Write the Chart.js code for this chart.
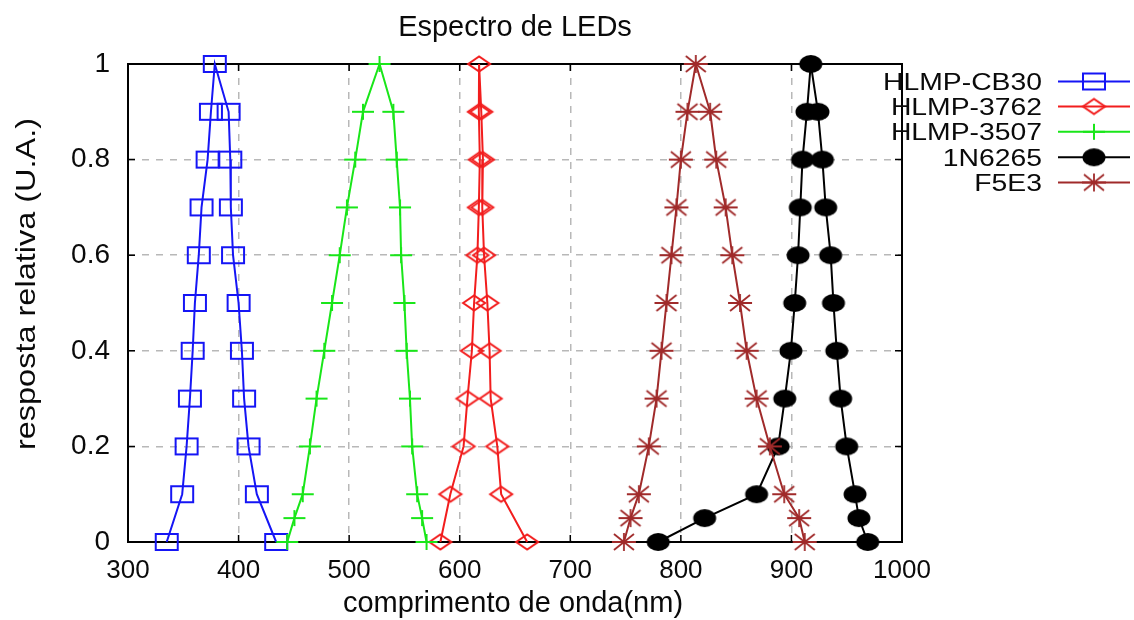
<!DOCTYPE html>
<html><head><meta charset="utf-8">
<script src="https://cdn.jsdelivr.net/npm/chart.js@4/dist/chart.umd.min.js"></script>
<style>html,body{margin:0;padding:0;background:#fff;overflow:hidden}</style>
</head><body>
<canvas id="c" width="1134" height="620"></canvas>
<script>
// ---- text ----
const titleText = "Espectro de LEDs";
const xAxisTitle = "comprimento de onda(nm)";
const yAxisTitle = "resposta relativa (U.A.)";
const seriesNames = ["HLMP-CB30", "HLMP-3762", "HLMP-3507", "1N6265", "F5E3"];
const xTickValues = [300, 400, 500, 600, 700, 800, 900, 1000];
const xTickLabels = ["300", "400", "500", "600", "700", "800", "900", "1000"];
const yTickValues = [0, 0.2, 0.4, 0.6, 0.8, 1];
const yTickLabels = ["0", "0.2", "0.4", "0.6", "0.8", "1"];

// ---- data (wavelength nm, relative response) ----
const cb30X = [335, 349, 353, 356, 358.5, 360.5, 364, 366.5, 372, 375, 378.5, 391, 392.5, 393, 395, 400, 403, 405, 409, 416.5, 434];
const cb30Y = [0, 0.1, 0.2, 0.3, 0.4, 0.5, 0.6, 0.7, 0.8, 0.9, 1, 0.9, 0.8, 0.7, 0.6, 0.5, 0.4, 0.3, 0.2, 0.1, 0];

const h3762X = [582.5, 591.5, 603.5, 607, 611, 613, 616, 617.3, 618.2, 617.3, 617.5, 619.5, 621, 620.4, 622, 625, 627, 628, 634, 637.5, 661];
const h3762Y = [0, 0.1, 0.2, 0.3, 0.4, 0.5, 0.6, 0.7, 0.8, 0.9, 1, 0.9, 0.8, 0.7, 0.6, 0.5, 0.4, 0.3, 0.2, 0.1, 0];

const h3507X = [444, 450.5, 458, 464.5, 470.5, 477.5, 484.5, 491.5, 498, 505.5, 512.5, 527.5, 540, 543, 546, 547, 550, 552, 555, 557, 561.5, 566, 570];
const h3507Y = [0, 0.05, 0.1, 0.2, 0.3, 0.4, 0.5, 0.6, 0.7, 0.8, 0.9, 1, 0.9, 0.8, 0.7, 0.6, 0.5, 0.4, 0.3, 0.2, 0.1, 0.05, 0];

const n6265X = [779.5, 821.5, 868.5, 888, 894, 899.5, 903, 906, 908, 910, 914, 917.5, 924, 928, 931, 935.5, 938, 941, 944.5, 950, 957.5, 961, 969];
const n6265Y = [0, 0.05, 0.1, 0.2, 0.3, 0.4, 0.5, 0.6, 0.7, 0.8, 0.9, 1, 0.9, 0.8, 0.7, 0.6, 0.5, 0.4, 0.3, 0.2, 0.1, 0.05, 0];

const f5e3X = [748.5, 754.5, 762, 771, 778, 782.5, 787, 791.5, 796, 800, 806, 813.5, 826.5, 832, 840.5, 846.5, 853.5, 859.5, 868.5, 880.5, 893.5, 907, 912];
const f5e3Y = [0, 0.05, 0.1, 0.2, 0.3, 0.4, 0.5, 0.6, 0.7, 0.8, 0.9, 1, 0.9, 0.8, 0.7, 0.6, 0.5, 0.4, 0.3, 0.2, 0.1, 0.05, 0];

// ---- styles ----
const colors = ["#1515f5", "#f21d1d", "#19e619", "#000000", "#a02a2a"];
const markerKinds = ["rect", "diamond", "plus", "ellipse", "star"];
const FONT = "'Liberation Sans', Arial, Helvetica, sans-serif";
const TEXT = "#0a0a0a";

function makeMarker(kind, color) {
  const c = document.createElement('canvas');
  c.width = 28; c.height = 22;
  const g = c.getContext('2d');
  const cx = 14, cy = 11;
  g.strokeStyle = color; g.fillStyle = color; g.lineWidth = 2;
  g.beginPath();
  if (kind === 'rect') {
    g.rect(cx - 11, cy - 8, 22, 16); g.stroke();
  } else if (kind === 'diamond') {
    g.moveTo(cx - 11, cy); g.lineTo(cx, cy - 7.5); g.lineTo(cx + 11, cy); g.lineTo(cx, cy + 7.5); g.closePath(); g.stroke();
  } else if (kind === 'plus') {
    g.moveTo(cx - 11, cy); g.lineTo(cx + 11, cy); g.moveTo(cx, cy - 8); g.lineTo(cx, cy + 8); g.stroke();
  } else if (kind === 'ellipse') {
    g.ellipse(cx, cy, 11.5, 9, 0, 0, Math.PI * 2); g.fill();
  } else if (kind === 'star') {
    g.lineWidth = 1.8;
    g.moveTo(cx - 12, cy); g.lineTo(cx + 12, cy);
    g.moveTo(cx, cy - 9); g.lineTo(cx, cy + 9);
    g.moveTo(cx - 10, cy - 8); g.lineTo(cx + 10, cy + 8);
    g.moveTo(cx - 10, cy + 8); g.lineTo(cx + 10, cy - 8);
    g.stroke();
  }
  return c;
}
const markers = markerKinds.map((k, i) => makeMarker(k, colors[i]));

function pts(xs, ys) { return xs.map((x, i) => ({ x: x, y: ys[i] })); }
const seriesData = [pts(cb30X, cb30Y), pts(h3762X, h3762Y), pts(h3507X, h3507Y), pts(n6265X, n6265Y), pts(f5e3X, f5e3Y)];
const drawOrder = [4, 3, 2, 1, 0];

const datasets = seriesNames.map((name, i) => ({
  label: name,
  data: seriesData[i],
  borderColor: colors[i],
  backgroundColor: colors[i],
  borderWidth: 2,
  tension: 0,
  pointStyle: markers[i],
  pointRadius: 11,
  pointHoverRadius: 11,
  clip: false,
  order: drawOrder[i]
}));

function labelFor(values, labels, v) {
  const i = values.findIndex(t => Math.abs(t - v) < 1e-9);
  return i >= 0 ? labels[i] : '';
}

const framePlugin = {
  id: 'frame',
  beforeDatasetsDraw(chart) {
    const { ctx, chartArea: a, scales } = chart;
    ctx.save();
    ctx.strokeStyle = '#000'; ctx.lineWidth = 2;
    ctx.strokeRect(a.left, a.top, a.right - a.left, a.bottom - a.top);
    ctx.lineWidth = 1.5;
    ctx.beginPath();
    const tl = 7;
    xTickValues.forEach(v => {
      const p = scales.x.getPixelForValue(v);
      ctx.moveTo(p, a.bottom); ctx.lineTo(p, a.bottom - tl);
      ctx.moveTo(p, a.top); ctx.lineTo(p, a.top + tl);
    });
    yTickValues.forEach(v => {
      const p = scales.y.getPixelForValue(v);
      ctx.moveTo(a.left, p); ctx.lineTo(a.left + tl, p);
      ctx.moveTo(a.right, p); ctx.lineTo(a.right - tl, p);
    });
    ctx.stroke();
    ctx.restore();
  },
  afterDraw(chart) {
    const { ctx, chartArea: a } = chart;
    ctx.save();
    ctx.fillStyle = TEXT;
    // title
    ctx.font = `29px ${FONT}`;
    ctx.textAlign = 'center'; ctx.textBaseline = 'alphabetic';
    ctx.fillText(titleText, (a.left + a.right) / 2, 36);
    // x axis title
    ctx.font = `29px ${FONT}`;
    ctx.fillText(xAxisTitle, (a.left + a.right) / 2 - 2, 612);
    // y axis title
    ctx.save();
    ctx.translate(35, 284);
    ctx.rotate(-Math.PI / 2);
    ctx.scale(1.16, 1);
    ctx.font = `28px ${FONT}`;
    ctx.fillText(yAxisTitle, 0, 0);
    ctx.restore();
    // legend
    const rows = [81.5, 106.5, 131.8, 157.3, 182.5];
    seriesNames.forEach((name, i) => {
      const y = rows[i];
      ctx.save();
      ctx.translate(1042, y + 8.6);
      ctx.scale(1.18, 1);
      ctx.font = `24px ${FONT}`;
      ctx.textAlign = 'right';
      ctx.fillStyle = TEXT;
      ctx.fillText(name, 0, 0);
      ctx.restore();
      ctx.save();
      ctx.strokeStyle = colors[i]; ctx.lineWidth = 2;
      ctx.beginPath(); ctx.moveTo(1058, y); ctx.lineTo(1130, y); ctx.stroke();
      const m = markers[i];
      ctx.drawImage(m, 1094 - m.width / 2, y - m.height / 2);
      ctx.restore();
    });
    ctx.restore();
  }
};

new Chart(document.getElementById('c'), {
  type: 'line',
  data: { datasets: datasets },
  options: {
    responsive: false,
    animation: false,
    devicePixelRatio: 1,
    layout: { padding: { top: 64, right: 232, left: 0, bottom: 0 } },
    plugins: { legend: { display: false }, title: { display: false }, tooltip: { enabled: false } },
    scales: {
      x: {
        type: 'linear', min: 300, max: 1000,
        afterFit(s) { s.height = 78; },
        afterBuildTicks(s) { s.ticks = xTickValues.map(v => ({ value: v })); },
        ticks: {
          font: { size: 26, family: FONT }, color: TEXT, padding: 13, maxRotation: 0, autoSkip: false,
          callback: (v) => labelFor(xTickValues, xTickLabels, v)
        },
        grid: { color: '#b8b8b8', lineWidth: 1.5, drawTicks: false },
        border: { display: false, dash: [7, 7] }
      },
      y: {
        type: 'linear', min: 0, max: 1,
        afterFit(s) { s.width = 128; },
        afterBuildTicks(s) { s.ticks = yTickValues.map(v => ({ value: v })); },
        ticks: {
          font: { size: 28, family: FONT }, color: TEXT, padding: 18,
          callback: (v) => labelFor(yTickValues, yTickLabels, v)
        },
        grid: { color: '#b8b8b8', lineWidth: 1.5, drawTicks: false },
        border: { display: false, dash: [7, 7] }
      }
    }
  },
  plugins: [framePlugin]
});
</script>
</body></html>
